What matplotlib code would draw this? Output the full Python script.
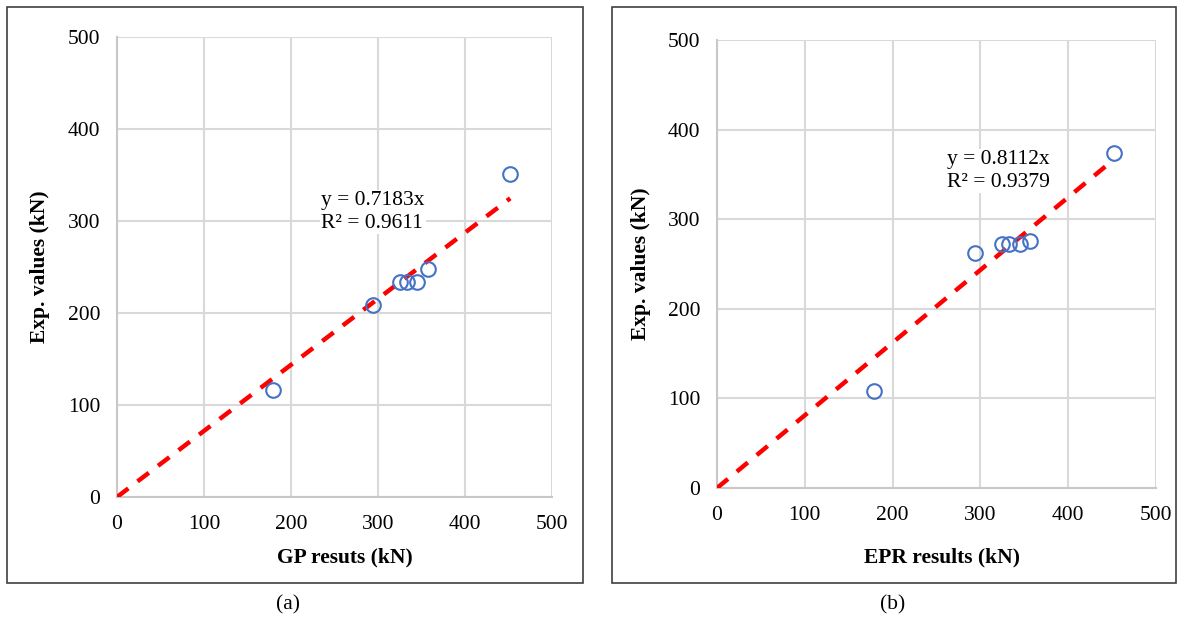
import matplotlib
matplotlib.use("Agg")
import matplotlib.pyplot as plt
import numpy as np
from matplotlib.patches import Rectangle

plt.rcParams['font.family'] = ['Liberation Serif', 'DejaVu Serif']

# Data
gp_pred = [179, 294, 325, 333, 345, 357, 452]
gp_exp = [116, 209, 234, 234, 234, 248, 351]
epr_pred = [179, 294, 325, 333, 345, 357, 452]
epr_exp = [108, 262, 272, 272, 272, 276, 374]
gp_slope = 0.7183
gp_r2 = 0.9611
epr_slope = 0.8112
epr_r2 = 0.9379
ticks = [0, 100, 200, 300, 400, 500]
panels = [
    dict(x=gp_pred, y=gp_exp, slope=gp_slope, r2=gp_r2, xlabel="GP resuts (kN)",
         rect=(117, 37, 552, 497), box=(7, 7, 583, 583), eq=(321, 212), cap="(a)",
         capx=288, xlx=345, yly=267, ylx=40),
    dict(x=epr_pred, y=epr_exp, slope=epr_slope, r2=epr_r2, xlabel="EPR results (kN)",
         rect=(717, 40, 1156, 488), box=(612, 7, 1176, 583), eq=(947, 171), cap="(b)",
         capx=893, xlx=942, yly=264, ylx=641),
]

FS = 15.5
W, H = 1183, 620
fig = plt.figure(figsize=(W / 100, H / 100), dpi=100)

for p in panels:
    l, t, r, b = p["rect"]
    ax = fig.add_axes([l / W, 1 - b / H, (r - l) / W, (b - t) / H])
    ax.set_xlim(0, 500)
    ax.set_ylim(0, 500)
    ax.set_xticks(ticks)
    ax.set_yticks(ticks)
    ax.grid(True, color="#d9d9d9", lw=1.5)
    ax.set_axisbelow(True)
    for s in ["top", "right"]:
        ax.spines[s].set_visible(False)
    for s in ["left", "bottom"]:
        ax.spines[s].set_color("#c8c8c8")
        ax.spines[s].set_linewidth(1.5)
    ax.tick_params(length=0, labelsize=FS, colors="#000000")
    ax.tick_params(axis="y", pad=12)
    ax.tick_params(axis="x", pad=13)
    xs = np.array([0, max(p["x"])])
    ax.plot(xs, p["slope"] * xs, color="#ff0000", lw=3.2, ls=(0, (3.2, 2.6)), zorder=3)
    ax.plot(p["x"], p["y"], ls="none", marker="o", ms=10.5, mfc="none", mec="#4472c4", mew=1.5, zorder=4)
    fig.text(p["xlx"] / W, 1 - 557 / H, p["xlabel"], fontsize=FS, fontweight="bold",
             ha="center", va="center")
    fig.text(p["ylx"] / W, 1 - p["yly"] / H, "Exp. values (kN)", fontsize=FS, fontweight="bold",
             ha="center", va="center", rotation=90)
    ex, ey = p["eq"]
    fig.text(ex / W, 1 - ey / H, "y = %.4fx\nR² = %.4f" % (p["slope"], p["r2"]),
             fontsize=FS, ha="left", va="center", linespacing=1.25,
             bbox=dict(facecolor="white", edgecolor="none", pad=1))
    bl, bt, br, bb = p["box"]
    fig.add_artist(Rectangle((bl / W, 1 - bb / H), (br - bl) / W, (bb - bt) / H,
                             transform=fig.transFigure, fill=False, edgecolor="#404040", lw=1.2))
    fig.text(p["capx"] / W, 1 - 605 / H, p["cap"], fontsize=FS, ha="center", va="center")

fig.savefig("out.png", dpi=100)
